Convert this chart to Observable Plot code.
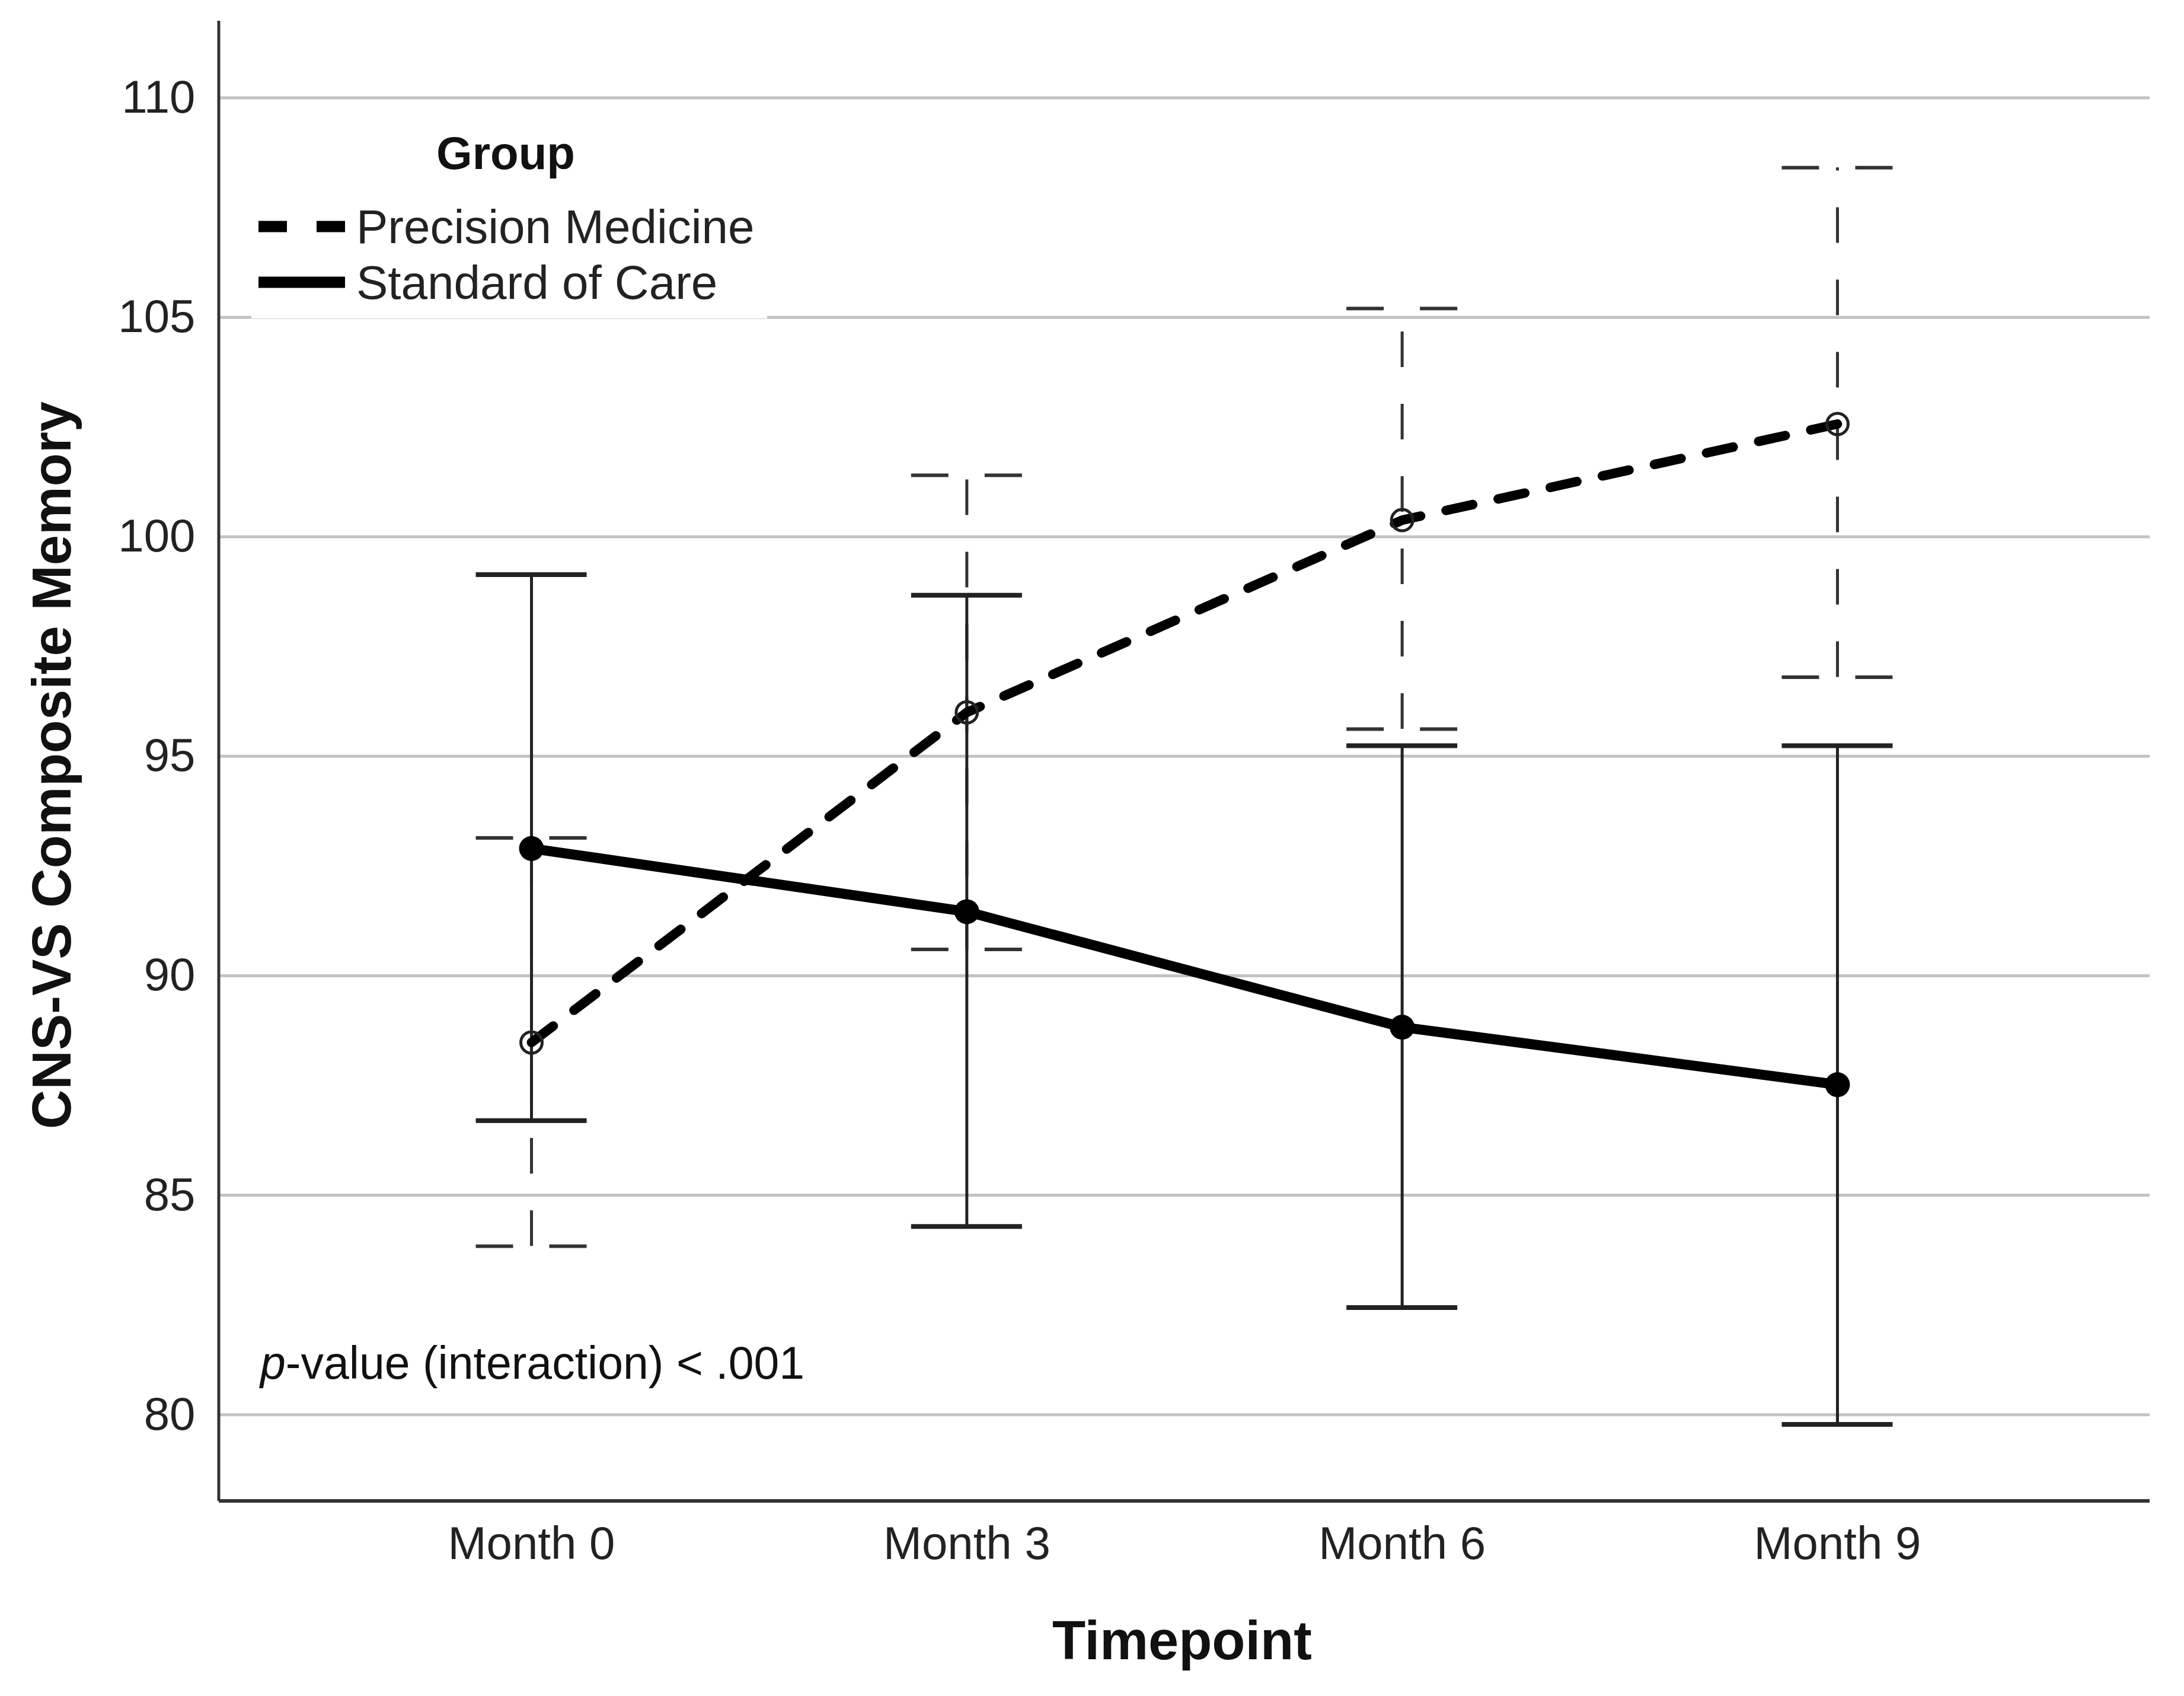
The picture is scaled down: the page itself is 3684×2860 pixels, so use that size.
<!DOCTYPE html>
<html><head><meta charset="utf-8">
<script src="https://cdn.jsdelivr.net/npm/d3@7"></script>
<script src="https://cdn.jsdelivr.net/npm/@observablehq/plot@0.6"></script>
<style>
html,body{margin:0;padding:0;background:#fff;}
svg{display:block;}
</style>
</head><body><div id="chart"></div>
<script>
// ---- data ----
const timepoints = ["Month 0", "Month 3", "Month 6", "Month 9"];
const groups = ["Precision Medicine", "Standard of Care"];
const pmMean  = [88.48, 96.0, 100.38, 102.57];
const pmLower = [83.84, 90.6, 95.62, 96.8];
const pmUpper = [93.14, 101.4, 105.2, 108.41];
const socMean  = [92.9, 91.46, 88.83, 87.52];
const socLower = [86.7, 84.29, 82.44, 79.78];
const socUpper = [99.14, 98.67, 95.24, 95.24];
const yTicks = [80, 85, 90, 95, 100, 105, 110];
const yDomain = [78.03, 111.75];
const legendTitle = "Group";
const xTitle = "Timepoint";
const yTitle = "CNS-VS Composite Memory";
const noteItalic = "p";
const noteRest = "-value (interaction) < .001";

const pm = timepoints.map((t, i) => ({time: t, group: groups[0], mean: pmMean[i], lower: pmLower[i], upper: pmUpper[i]}));
const soc = timepoints.map((t, i) => ({time: t, group: groups[1], mean: socMean[i], lower: socLower[i], upper: socUpper[i]}));

const W = 3684, H = 2860;
const M = {top: 35, right: 58, bottom: 329, left: 369};
const FONT = "'Liberation Sans', Arial, Helvetica, sans-serif";

function overlay(index, scales, values, dims) {
  const d = (dims && dims.width) ? dims : {width: W, height: H, marginLeft: M.left, marginRight: M.right, marginTop: M.top, marginBottom: M.bottom};
  const g = d3.create("svg:g").attr("text-anchor", "start");
  const L = d.marginLeft, R = d.width - d.marginRight, T = d.marginTop, B = d.height - d.marginBottom;
  // legend box
  g.append("rect").attr("x", L + 55).attr("y", T + 150).attr("width", 870).attr("height", 352).attr("fill", "white");
  g.append("text").attr("x", L + 484).attr("y", T + 223).attr("text-anchor", "middle").attr("dominant-baseline", "central")
    .attr("font-weight", "bold").attr("font-size", 78).attr("fill", "#111").text(legendTitle);
  g.append("line").attr("x1", L + 67).attr("x2", L + 213).attr("y1", T + 347).attr("y2", T + 347)
    .attr("stroke", "#000").attr("stroke-width", 19).attr("stroke-dasharray", "48,50");
  g.append("line").attr("x1", L + 67).attr("x2", L + 213).attr("y1", T + 441).attr("y2", T + 441)
    .attr("stroke", "#000").attr("stroke-width", 19);
  g.append("text").attr("x", L + 232).attr("y", T + 347).attr("text-anchor", "start").attr("dominant-baseline", "central")
    .attr("font-size", 80).attr("fill", "#222").text(groups[0]);
  g.append("text").attr("x", L + 232).attr("y", T + 441).attr("text-anchor", "start").attr("dominant-baseline", "central")
    .attr("font-size", 80).attr("fill", "#222").text(groups[1]);
  // annotation
  const note = g.append("text").attr("x", L + 70).attr("y", B - 233).attr("text-anchor", "start").attr("dominant-baseline", "central")
    .attr("font-size", 77).attr("fill", "#111");
  note.append("tspan").attr("font-style", "italic").text(noteItalic);
  note.append("tspan").text(noteRest);
  // axis lines
  g.append("line").attr("x1", L).attr("x2", L).attr("y1", T).attr("y2", B).attr("stroke", "#333").attr("stroke-width", 5);
  g.append("line").attr("x1", L).attr("x2", R).attr("y1", B).attr("y2", B).attr("stroke", "#333").attr("stroke-width", 6);
  return g.node();
}

const chart = Plot.plot({
  width: W, height: H,
  marginTop: M.top, marginRight: M.right, marginBottom: M.bottom, marginLeft: M.left,
  style: {fontFamily: FONT, background: "white", color: "#222"},
  x: {type: "band", domain: timepoints, paddingInner: 0.7453, paddingOuter: 0.5904, round: false, label: null},
  y: {domain: yDomain, label: null},
  marks: [
    Plot.gridY(yTicks, {stroke: "#c2c2c2", strokeOpacity: 1, strokeWidth: 5}),
    overlay,
    // whiskers
    Plot.ruleX(pm, {x: "time", y1: "lower", y2: "upper", stroke: "#333", strokeWidth: 5, strokeDasharray: "60,62"}),
    Plot.ruleX(soc, {x: "time", y1: "lower", y2: "upper", stroke: "#222", strokeWidth: 5}),
    // caps
    Plot.tickY(pm, {x: "time", y: "lower", stroke: "#333", strokeWidth: 6, strokeDasharray: "63,61"}),
    Plot.tickY(pm, {x: "time", y: "upper", stroke: "#333", strokeWidth: 6, strokeDasharray: "63,61"}),
    Plot.tickY(soc, {x: "time", y: "lower", stroke: "#222", strokeWidth: 8}),
    Plot.tickY(soc, {x: "time", y: "upper", stroke: "#222", strokeWidth: 8}),
    // lines
    Plot.line(pm, {x: "time", y: "mean", stroke: "#000", strokeWidth: 16, strokeDasharray: "46,44"}),
    Plot.line(soc, {x: "time", y: "mean", stroke: "#000", strokeWidth: 17}),
    Plot.dot(pm, {x: "time", y: "mean", r: 18, stroke: "#222", strokeWidth: 5, fill: "none"}),
    Plot.dot(soc, {x: "time", y: "mean", r: 21, fill: "#000", stroke: "none"}),
    // axes
    Plot.axisY(yTicks, {tickSize: 0, tickPadding: 40, fontSize: 78, tickFormat: d => String(d), label: null}),
    Plot.axisX({tickSize: 0, tickPadding: 42, fontSize: 78, label: null}),
    // axis titles
    Plot.text([yTitle], {frameAnchor: "left", textAnchor: "middle", lineAnchor: "middle", rotate: -90, dx: -280, dy: 7, fontSize: 92, fontWeight: "bold", fill: "#111"}),
    Plot.text([xTitle], {frameAnchor: "bottom", textAnchor: "middle", lineAnchor: "middle", dy: 237, dx: -4, fontSize: 92, fontWeight: "bold", fill: "#111"})
  ]
});
document.getElementById("chart").appendChild(chart);
</script>
</body></html>
